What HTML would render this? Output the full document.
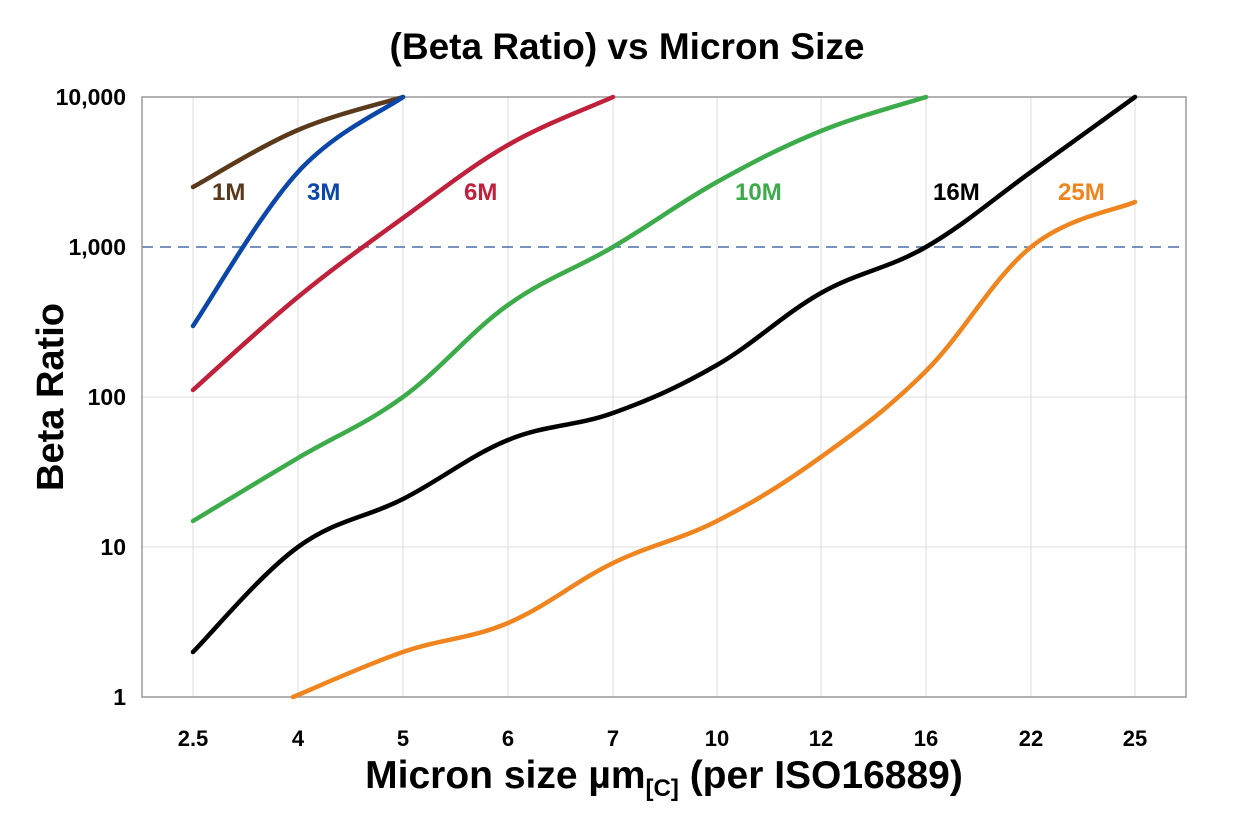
<!DOCTYPE html>
<html><head><meta charset="utf-8"><style>
body{margin:0;background:#fff;}
svg text{font-family:"Liberation Sans",Arial,sans-serif;font-weight:bold;}
</style></head><body>
<svg id="s" width="1249" height="819" xmlns="http://www.w3.org/2000/svg">
<rect width="1249" height="819" fill="#fff"/>
<text x="627" y="59" font-size="37" text-anchor="middle">(Beta Ratio) vs Micron Size</text>
<g stroke="#dcdcdc" stroke-width="1">
<line x1="142" y1="397" x2="1186" y2="397"/><line x1="142" y1="547" x2="1186" y2="547"/>
<line x1="193" y1="97" x2="193" y2="697"/><line x1="298" y1="97" x2="298" y2="697"/><line x1="403" y1="97" x2="403" y2="697"/><line x1="508" y1="97" x2="508" y2="697"/><line x1="613" y1="97" x2="613" y2="697"/><line x1="717" y1="97" x2="717" y2="697"/><line x1="821" y1="97" x2="821" y2="697"/><line x1="926" y1="97" x2="926" y2="697"/><line x1="1031" y1="97" x2="1031" y2="697"/><line x1="1135" y1="97" x2="1135" y2="697"/>
</g>
<line x1="142" y1="247" x2="1186" y2="247" stroke="#4a6fa5" stroke-width="1.5" stroke-dasharray="11,7"/>
<rect x="142" y="97" width="1044" height="600" fill="none" stroke="#999" stroke-width="1.5"/>
<g font-size="23" text-anchor="end">
<text x="126" y="105">10,000</text><text x="126" y="255">1,000</text><text x="126" y="405">100</text><text x="126" y="555">10</text><text x="126" y="705">1</text>
</g>
<g font-size="22" text-anchor="middle">
<text x="193" y="746">2.5</text><text x="298" y="746">4</text><text x="403" y="746">5</text><text x="508" y="746">6</text><text x="613" y="746">7</text><text x="717" y="746">10</text><text x="821" y="746">12</text><text x="926" y="746">16</text><text x="1031" y="746">22</text><text x="1135" y="746">25</text>
</g>
<text x="63" y="397" font-size="38" text-anchor="middle" transform="rotate(-90 63 397)">Beta Ratio</text>
<text x="664" y="788" font-size="39" text-anchor="middle">Micron size µm<tspan font-size="24" dy="8">[C]</tspan><tspan dy="-8"> (per ISO16889)</tspan></text>
<g id="lines" fill="none" stroke-width="4.5" stroke-linecap="round" stroke-linejoin="round"></g>
<g font-size="24">
<text x="212" y="200" fill="#5a3a1a">1M</text>
<text x="307" y="200" fill="#0a47a8">3M</text>
<text x="464" y="200" fill="#c0203a">6M</text>
<text x="735" y="200" fill="#3cab4a">10M</text>
<text x="933" y="200" fill="#000">16M</text>
<text x="1058" y="200" fill="#f0841e">25M</text>
</g>
</svg>
<script>
var series=[
["#5a3a1a",[[193,187],[298,130],[403,97]]],
["#0a47a8",[[193,326],[298,172],[403,97]]],
["#c0203a",[[193,390],[298,297],[403,218],[508,145],[613,97]]],
["#3cab4a",[[193,521],[298,458],[403,397],[508,305],[613,247],[717,182],[821,131],[926,97]]],
["#000",[[193,652],[298,547],[403,499],[508,440],[613,413],[717,365],[821,293],[926,247],[1031,172],[1135,97]]],
["#f0841e",[[293,697],[403,652],[508,623],[613,563],[717,521],[821,457],[926,371],[1031,247],[1135,202]]]
];
var g=document.getElementById("lines");
series.forEach(function(s){
 var p=s[1],d="M"+p[0][0]+","+p[0][1];
 for(var i=0;i<p.length-1;i++){
  var p0=p[Math.max(i-1,0)],p1=p[i],p2=p[i+1],p3=p[Math.min(i+2,p.length-1)];
  var t=0.18;
  d+=" C"+(p1[0]+(p2[0]-p0[0])*t)+","+(p1[1]+(p2[1]-p0[1])*t)+" "+(p2[0]-(p3[0]-p1[0])*t)+","+(p2[1]-(p3[1]-p1[1])*t)+" "+p2[0]+","+p2[1];
 }
 var e=document.createElementNS("http://www.w3.org/2000/svg","path");
 e.setAttribute("d",d);e.setAttribute("stroke",s[0]);g.appendChild(e);
});
</script>
</body></html>
